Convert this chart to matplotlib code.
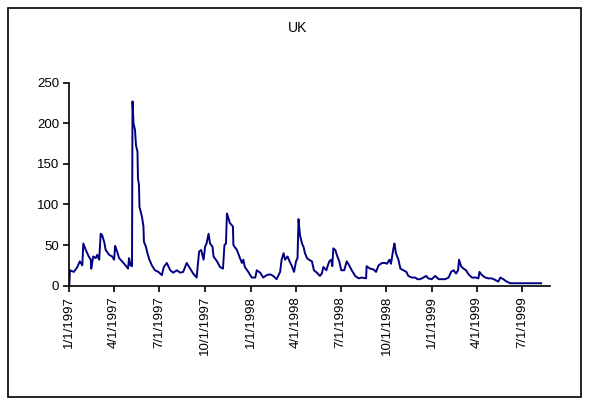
import pandas as pd
import matplotlib
matplotlib.use("Agg")
import matplotlib.pyplot as plt
import matplotlib.dates as mdates
from matplotlib.patches import Rectangle

# days since 1/1/1997 and the UK series
DAYS = [0, 1, 9, 16, 21, 26, 28, 33, 39, 43, 44, 48, 53, 56, 60, 63, 66, 70, 73,
        80, 86, 90, 92, 95, 100, 106, 113, 118, 120, 123, 126,
        127, 129, 132, 134, 137, 138, 140, 141, 146, 149, 150, 154, 157, 161,
        166, 172, 179, 186, 190, 196, 203, 209, 216, 223, 229, 236, 243, 249,
        256, 261, 265, 270, 273, 276, 280, 283, 288, 290, 297, 303, 309, 312,
        315, 317, 320, 323, 329, 330, 337, 342, 347, 350, 353, 360, 367, 374,
        377, 384, 390, 397, 404, 410, 417, 424, 427, 431, 434, 439, 443, 447,
        452, 456, 459, 461, 464, 468, 471, 474, 478, 482, 488, 492, 498, 504,
        508, 511, 517, 520, 523, 527, 529, 531, 535, 538, 543, 547, 553, 558,
        563, 568, 575, 582, 588, 597, 598, 605, 612, 617, 622, 629, 635, 639,
        644, 647, 652, 654, 657, 662, 666, 672, 678, 682, 689, 696, 700, 706,
        712, 718, 722, 729, 736, 743, 749, 756, 763, 768, 773, 778, 782, 784,
        788, 793, 798, 803, 810, 818, 823, 825, 830, 837, 843, 850, 857, 863,
        867, 873, 880, 887, 897, 910, 924, 937, 949]
UK = [2, 19, 17, 23, 30, 25, 52, 44, 36, 32, 21, 36, 34, 38, 32, 64, 62, 54, 44,
      38, 36, 32, 49, 44, 34, 30, 25, 21, 34, 25, 24,
      227, 200, 192, 173, 165, 132, 124, 97, 85, 73, 54, 48, 40, 32,
      25, 19, 17, 13, 23, 28, 19, 16, 19, 16, 17, 28, 21, 15,
      10, 42, 44, 32, 48, 52, 64, 52, 48, 36, 30, 23, 21, 50,
      52, 89, 83, 77, 73, 50, 44, 36, 28, 32, 23, 17, 10, 10,
      19, 16, 10, 13, 14, 12, 8, 17, 32, 40, 32, 36, 30, 25,
      17, 30, 34, 82, 62, 52, 48, 40, 34, 32, 30, 19, 16, 12,
      15, 23, 19, 25, 30, 32, 24, 46, 44, 38, 30, 19, 19, 30,
      25, 19, 12, 9, 10, 9, 24, 21, 20, 17, 25, 28, 28, 27,
      32, 27, 46, 52, 40, 32, 21, 19, 17, 12, 10, 10, 8, 8,
      10, 12, 9, 8, 12, 8, 8, 8, 10, 17, 19, 15, 19, 32,
      24, 21, 19, 14, 10, 10, 9, 17, 13, 10, 9, 9, 7, 5,
      10, 8, 5, 3, 3, 3, 3, 3, 3]
START = "1997-01-01"
END = "1999-08-26"

dates = pd.Timestamp(START) + pd.to_timedelta(DAYS, unit="D")

plt.rcParams["font.family"] = ["Liberation Sans", "DejaVu Sans"]
fig = plt.figure(figsize=(5.89, 4.05), dpi=100)
ax = fig.add_axes([0.1178, 0.2946, 0.816, 0.5012])

ax.plot(dates, UK, color="#000080", linewidth=1.4)

ax.set_xlim(pd.Timestamp(START), pd.Timestamp(END))
ax.set_ylim(0, 250)
ax.set_yticks(range(0, 251, 50))
ax.xaxis.set_major_locator(mdates.MonthLocator(bymonth=[1, 4, 7, 10]))
ax.xaxis.set_major_formatter(
    plt.FuncFormatter(lambda v, p: "{d.month}/{d.day}/{d.year}".format(d=mdates.num2date(v))))
plt.setp(ax.get_xticklabels(), rotation=90, ha="center", va="top")

for s in ["top", "right"]:
    ax.spines[s].set_visible(False)
for s in ["left", "bottom"]:
    ax.spines[s].set_linewidth(1.2)
ax.tick_params(labelsize=9.5, length=4, width=1.2, color="black")

fig.text(0.506, 0.93, "UK", ha="center", va="center", fontsize=10)
fig.patches.append(Rectangle((8 / 589, 8 / 405), 573 / 589, 389 / 405,
                             transform=fig.transFigure, fill=False,
                             edgecolor="black", linewidth=1.2))

fig.savefig("out.png", dpi=100)
